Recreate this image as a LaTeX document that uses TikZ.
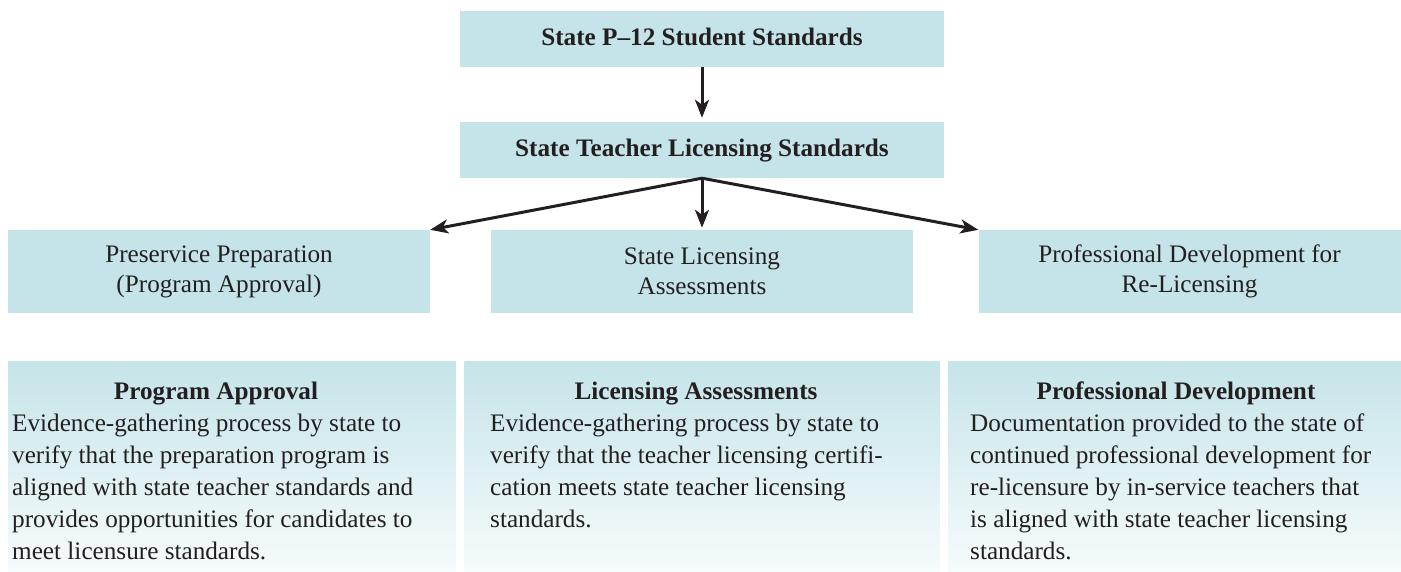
\documentclass[tikz,border=0pt]{standalone}
\usepackage{fontspec}
\setmainfont{Liberation Serif}
\usetikzlibrary{arrows.meta}
\definecolor{boxblue}{HTML}{C5E4E9}
\definecolor{paleend}{HTML}{F6FBFC}
\definecolor{ink}{HTML}{231F20}
\begin{document}
\begin{tikzpicture}[x=1pt,y=-1pt,
  topbox/.style={fill=boxblue, inner sep=0pt, minimum width=484pt, minimum height=56pt,
    text=ink, font=\fontsize{25.2}{32}\selectfont\bfseries, text height=17pt, text depth=5pt},
  midbox/.style={fill=boxblue, inner sep=0pt, minimum width=422pt, minimum height=83pt,
    text=ink, align=center, font=\fontsize{25.2}{30}\selectfont},
  panel/.style={top color=boxblue, bottom color=paleend, inner sep=0pt, minimum height=210pt},
  heading/.style={anchor=base, text=ink, inner sep=0pt, font=\fontsize{25.2}{32}\selectfont\bfseries},
  bodytext/.style={anchor=north west, text=ink, inner sep=0pt, align=left, font=\fontsize{25.2}{32}\selectfont},
  arr/.style={draw=ink, line width=3pt, -{Stealth[length=18pt, width=14pt, inset=5pt]}}
]
\useasboundingbox (0,0) rectangle (1401,571);

% top boxes
\node[topbox] (p12) at (702,39) {State P--12 Student Standards};
\node[topbox] (tls) at (702,150) {State Teacher Licensing Standards};

% middle row
\node[midbox] (pp)  at (219,271.5) {Preservice Preparation\\(Program Approval)};
\node[midbox] (sla) at (702,271.5) {State Licensing\\Assessments};
\node[midbox] (pd)  at (1189.5,271.5) {Professional Development for\\Re-Licensing};

% arrows
\draw[arr, shorten >=4pt] (p12.south) -- (tls.north);
\draw[arr] (tls.south) -- (pp.north east);
\draw[arr, shorten >=2pt] (tls.south) -- (sla.north);
\draw[arr] (tls.south) -- (pd.north west);

% bottom panels
\node[panel, minimum width=448pt] (pa) at (232,466) {};
\node[panel, minimum width=475pt] (la) at (702,466) {};
\node[panel, minimum width=453pt] (pdv) at (1174.5,466) {};

\node[heading] (pah) at (216,399) {Program Approval};
\node[bodytext] (pab) at (12,414) {Evidence-gathering process by state to\\
verify that the preparation program is\\
aligned with state teacher standards and\\
provides opportunities for candidates to\\
meet licensure standards.};

\node[heading] (lah) at (696,399) {Licensing Assessments};
\node[bodytext] (lab) at (490,414) {Evidence-gathering process by state to\\
verify that the teacher licensing certifi-\\
cation meets state teacher licensing\\
standards.};

\node[heading] (pdh) at (1176,399) {Professional Development};
\node[bodytext] (pdb) at (970,414) {Documentation provided to the state of\\
continued professional development for\\
re-licensure by in-service teachers that\\
is aligned with state teacher licensing\\
standards.};
\end{tikzpicture}
\end{document}
